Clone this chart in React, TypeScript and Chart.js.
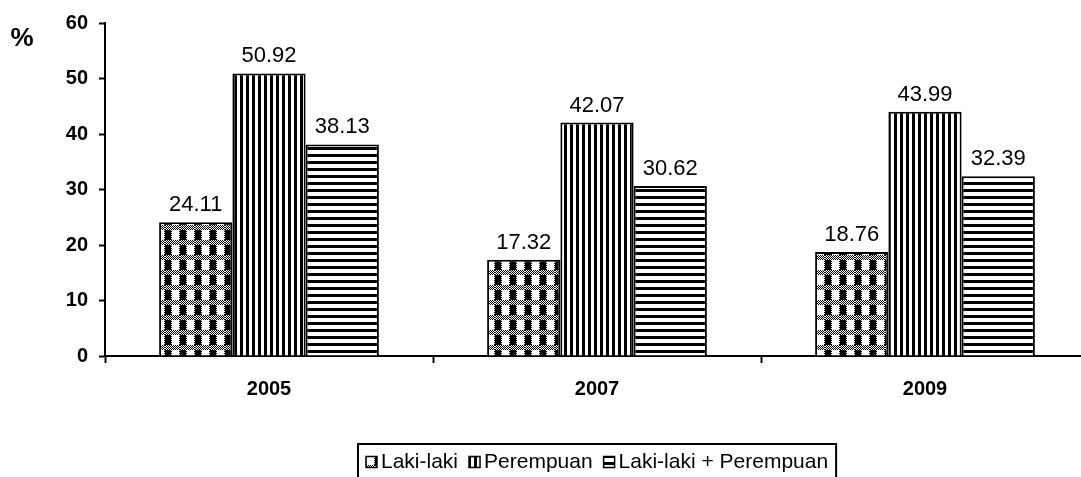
import React, { useEffect, useRef } from 'react';
import { Chart, registerables } from 'chart.js';

Chart.register(...registerables);

const categories = ['2005', '2007', '2009'];
const seriesNames = ['Laki-laki', 'Perempuan', 'Laki-laki + Perempuan'];
const lakiLaki = [24.11, 17.32, 18.76];
const perempuan = [50.92, 42.07, 43.99];
const gabungan = [38.13, 30.62, 32.39];
const yTicks = [0, 10, 20, 30, 40, 50, 60];
const yAxisTitle = '%';

const FONT = '"Liberation Sans", Arial, Helvetica, sans-serif';

function makeTile(w: number, h: number, draw: (c: CanvasRenderingContext2D) => void) {
  const c = document.createElement('canvas');
  c.width = w;
  c.height = h;
  const ctx = c.getContext('2d')!;
  ctx.fillStyle = '#fff';
  ctx.fillRect(0, 0, w, h);
  ctx.fillStyle = '#000';
  draw(ctx);
  return c;
}

function makePatterns(ctx: CanvasRenderingContext2D) {
  const checker = makeTile(15, 15, (c) => {
    for (let y = 0; y < 5; y++) {
      for (let x = 0; x < 15; x++) {
        if (((x + y) & 1) === 0) c.fillRect(x, y, 1, 1);
      }
    }
    c.fillRect(0, 5, 6, 10);
    for (let y = 5; y < 15; y++) {
      if ((y & 1) === 0) {
        c.fillRect(6, y, 1, 1);
        c.fillRect(14, y, 1, 1);
      }
    }
  });
  const vertical = makeTile(6, 1, (c) => {
    c.fillRect(0, 0, 3, 1);
  });
  const horizontal = makeTile(1, 7, (c) => {
    c.fillRect(0, 0, 1, 3);
  });
  return [
    ctx.createPattern(checker, 'repeat')!,
    ctx.createPattern(vertical, 'repeat')!,
    ctx.createPattern(horizontal, 'repeat')!,
  ];
}

const valueLabels = {
  id: 'valueLabels',
  afterDatasetsDraw(chart: any) {
    const ctx = chart.ctx as CanvasRenderingContext2D;
    ctx.save();
    ctx.font = `22px ${FONT}`;
    ctx.fillStyle = '#000';
    ctx.textAlign = 'center';
    ctx.textBaseline = 'alphabetic';
    chart.data.datasets.forEach((ds: any, i: number) => {
      chart.getDatasetMeta(i).data.forEach((el: any, j: number) => {
        ctx.fillText(Number(ds.data[j]).toFixed(2), el.x, el.y - 11);
      });
    });
    ctx.restore();
  },
};

const unitLabel = {
  id: 'unitLabel',
  afterDraw(chart: any) {
    const ctx = chart.ctx as CanvasRenderingContext2D;
    ctx.save();
    ctx.font = `bold 26px ${FONT}`;
    ctx.fillStyle = '#000';
    ctx.textAlign = 'center';
    ctx.textBaseline = 'middle';
    ctx.fillText(yAxisTitle, 22, 39);
    ctx.restore();
  },
};

const boxedLegend = {
  id: 'boxedLegend',
  afterDraw(chart: any) {
    const ctx = chart.ctx as CanvasRenderingContext2D;
    const ds = chart.data.datasets;
    ctx.save();
    ctx.font = `21px ${FONT}`;
    const icon = 11;
    const iconGap = 4;
    const itemGap = 11;
    const pad = 8;
    const widths = ds.map((d: any) => ctx.measureText(d.label).width);
    const total =
      pad * 2 +
      widths.reduce((a: number, b: number) => a + b, 0) +
      ds.length * (icon + iconGap) +
      (ds.length - 1) * itemGap;
    const cx = (chart.chartArea.left + chart.chartArea.right) / 2;
    const left = Math.round(cx - total / 2);
    const top = 444;
    const midY = 462;
    ctx.lineWidth = 2;
    ctx.strokeStyle = '#000';
    ctx.strokeRect(left, top, total, 60);
    let x = left + pad;
    ds.forEach((d: any, i: number) => {
      ctx.fillStyle = d.backgroundColor;
      ctx.fillRect(x, midY - icon / 2, icon, icon);
      ctx.lineWidth = 1.5;
      ctx.strokeRect(x, midY - icon / 2, icon, icon);
      x += icon + iconGap;
      ctx.fillStyle = '#000';
      ctx.textAlign = 'left';
      ctx.textBaseline = 'middle';
      ctx.fillText(d.label, x, midY);
      x += widths[i] + itemGap;
    });
    ctx.restore();
  },
};

export default function App() {
  const ref = useRef<HTMLCanvasElement>(null);

  useEffect(() => {
    const canvas = ref.current!;
    const patterns = makePatterns(canvas.getContext('2d')!);
    const values = [lakiLaki, perempuan, gabungan];
    const chart = new Chart(canvas, {
      type: 'bar',
      data: {
        labels: categories,
        datasets: seriesNames.map((name, i) => ({
          label: name,
          data: values[i],
          backgroundColor: patterns[i] as any,
          borderColor: '#000',
          borderWidth: 2,
          categoryPercentage: 0.67,
          barPercentage: 1,
        })),
      },
      options: {
        responsive: false,
        maintainAspectRatio: false,
        animation: false,
        layout: { padding: { top: 20, right: 11, bottom: 0, left: 0 } },
        plugins: {
          legend: { display: false },
          tooltip: { enabled: false },
        },
        scales: {
          x: {
            grid: {
              offset: true,
              drawOnChartArea: false,
              tickLength: 7,
              tickColor: '#000',
              tickWidth: 2,
            },
            border: { color: '#000', width: 2 },
            ticks: {
              color: '#000',
              font: { family: FONT, size: 20, weight: 'bold' },
              padding: 14,
            },
            afterFit: (s: any) => {
              s.height = 121;
            },
          },
          y: {
            min: 0,
            max: 60,
            afterBuildTicks: (s: any) => {
              s.ticks = yTicks.map((v) => ({ value: v }));
            },
            ticks: {
              color: '#000',
              font: { family: FONT, size: 20, weight: 'bold' },
              padding: 11,
            },
            grid: {
              drawOnChartArea: false,
              tickLength: 6,
              tickColor: '#000',
              tickWidth: 2,
            },
            border: { color: '#000', width: 2 },
            afterFit: (s: any) => {
              s.width = 105;
            },
          },
        },
      },
      plugins: [valueLabels, unitLabel, boxedLegend],
    });
    return () => chart.destroy();
  }, []);

  return (
    <div
      style={{
        position: 'fixed',
        left: 0,
        top: 0,
        width: 1081,
        height: 477,
        overflow: 'hidden',
        background: '#fff',
      }}
    >
      <canvas ref={ref} width={1100} height={477} style={{ display: 'block' }} />
    </div>
  );
}
